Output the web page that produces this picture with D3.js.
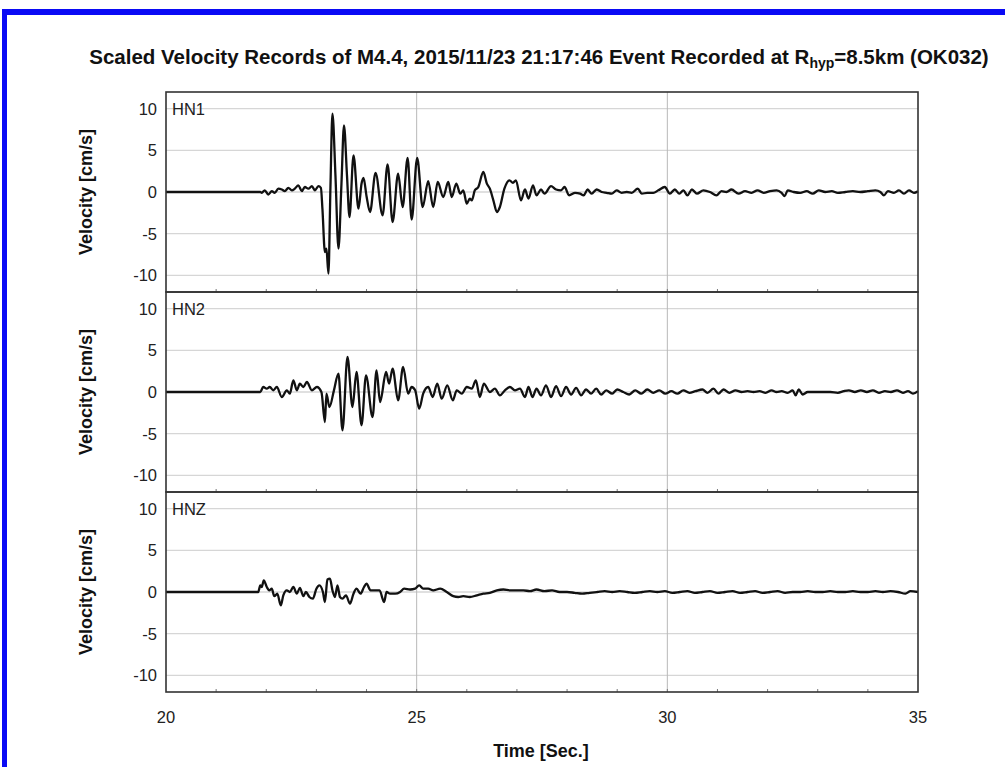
<!DOCTYPE html>
<html>
<head>
<meta charset="utf-8">
<script src="https://cdn.jsdelivr.net/npm/d3@7"></script>
<style>
  body { margin: 0; background: #fff; }
  svg { display: block; font-family: "Liberation Sans", Arial, sans-serif; }
</style>
</head>
<body>
<div id="chart"></div>
<script>
// channel names, one panel each
var channels = ["HN1", "HN2", "HNZ"];
var xTicks = [20, 25, 30, 35];
var yTicks = [-10, -5, 0, 5, 10];

// [time s, velocity cm/s]
var hn1 = [[20,0],[21.88,0],
[21.91,-0.1],[21.97,0.2],[22.04,-0.3],[22.11,0.1],[22.17,-0.1],[22.24,0.4],[22.31,0.3],[22.37,0.1],[22.44,0.5],[22.51,0.2],[22.57,0.4],[22.64,0.8],[22.71,0.1],[22.77,0.6],[22.84,0.4],[22.91,0.7],[22.97,0.2],[23.04,0.7],[23.09,0.5],
[23.12,-2.0],[23.17,-7.2],[23.20,-6.8],[23.24,-9.8],[23.28,0.5],[23.32,9.4],[23.38,2.0],[23.44,-6.8],[23.50,1.0],[23.55,8.0],[23.61,2.0],[23.66,-3.0],[23.74,4.4],[23.84,-2.0],[23.90,1.0],[23.94,1.7],[24.00,-0.5],[24.07,-2.4],[24.18,2.3],[24.32,-2.8],[24.42,3.3],[24.52,-3.6],[24.63,2.2],[24.72,-1.8],[24.82,4.1],[24.90,-3.3],[25.01,4.1],[25.12,-1.8],[25.23,1.3],[25.33,-1.8],[25.42,1.2],[25.53,-0.6],[25.63,1.2],[25.70,-0.6],[25.79,1.0],[25.87,-0.2],[25.93,0.2],[26.0,-1.4],[26.06,-0.8],[26.10,-1.0],[26.16,0.2],[26.23,0.6],[26.33,2.4],[26.40,1.0],[26.46,0.4],[26.53,-1.0],[26.60,-2.4],[26.66,-1.8],[26.75,0.4],[26.85,1.4],[26.92,1.1],[26.98,1.4],[27.08,-1.0],[27.16,0.3],[27.23,-0.8],[27.32,0.8],[27.39,-0.4],[27.48,0.3],[27.55,-0.2],[27.68,0.7],[27.78,0.3],[27.88,0.2],[27.95,0.6],[28.04,-0.4],[28.16,-0.1],[28.26,-0.2],[28.33,-0.4],[28.41,0.3],[28.49,-0.2],[28.59,0.3],[28.69,0],[28.79,-0.1],[28.89,-0.2],[28.99,0.2],[29.09,-0.1],[29.19,0],[29.29,-0.1],[29.41,0.4],[29.49,-0.2],[29.60,-0.1],[29.72,-0.1],[29.82,0.2],[29.95,0.6],[30.05,-0.2],[30.15,0.3],[30.24,-0.2],[30.32,0.2],[30.40,-0.4],[30.49,0.3],[30.59,-0.2],[30.72,0.2],[30.85,0],[30.98,-0.4],[31.08,0.1],[31.18,0],[31.28,0.3],[31.42,-0.2],
[31.55,0.1],[31.68,-0.1],[31.80,0.2],[31.92,-0.1],[32.05,0.1],[32.18,0.2],[32.28,-0.1],[32.34,-0.5],[32.40,0.2],[32.52,0],[32.65,-0.1],[32.78,0.1],[32.90,-0.2],[33.02,0.2],[33.15,0],[33.28,0.1],[33.40,-0.1],[33.55,0],[33.70,0.1],[33.85,0],[34.00,0.1],[34.15,0.2],[34.25,0],[34.32,-0.4],[34.40,0.1],[34.52,-0.1],[34.62,0.2],[34.72,-0.2],[34.82,0.2],[34.92,-0.1],[35,0.1]];

var hn2 = [[20,0],[21.88,0],[21.94,0.6],[22.01,0.4],[22.07,0.6],[22.14,0.2],[22.21,0.6],[22.31,-0.6],[22.41,0.2],[22.47,-0.2],[22.54,1.4],[22.61,0.2],[22.67,1.0],[22.74,0.6],[22.81,1.2],[22.91,0.2],[23.01,0.6],[23.10,0],[23.17,-3.6],[23.20,-0.2],[23.26,-1.8],[23.35,0.2],[23.44,2.2],[23.52,-4.6],[23.62,4.2],[23.72,-1.8],[23.80,2.4],[23.90,-4.0],[23.99,2.0],[24.12,-3.0],[24.20,2.6],[24.27,-1.2],[24.39,2.4],[24.45,1.0],[24.52,2.8],[24.63,-1.0],[24.73,3.0],[24.83,-0.2],[24.90,0.6],[24.97,0.2],[25.05,-2.0],[25.13,-0.2],[25.23,0.6],[25.32,-0.6],[25.41,1.0],[25.50,-0.8],[25.61,0.8],[25.72,-1.0],[25.80,0.2],[25.90,-0.2],[26.0,0.6],[26.10,0.4],[26.18,1.4],[26.26,-0.6],[26.34,1.0],[26.46,0],[26.56,0.4],[26.66,-0.4],[26.76,0.2],[26.86,0.6],[26.96,0.2],[27.06,0.4],[27.16,-0.6],[27.23,0.6],[27.31,-0.6],[27.39,0.4],
[27.48,-0.4],[27.58,0.8],[27.68,-0.6],[27.78,0.7],[27.88,-0.5],[27.98,0.6],[28.08,-0.3],[28.18,0.5],[28.28,-0.4],[28.38,0.3],[28.48,-0.2],[28.58,0.4],[28.68,-0.3],[28.78,0.2],[28.90,-0.2],[29.00,0.3],[29.12,0],[29.24,-0.3],[29.36,0.2],[29.48,-0.2],[29.60,0.3],[29.72,-0.1],[29.84,0.2],[29.96,-0.2],[30.08,0.1],[30.20,-0.2],[30.32,0.2],[30.44,-0.1],[30.56,0.1],[30.70,0.3],[30.80,-0.1],[30.92,0.4],[31.02,-0.2],[31.12,0.3],[31.24,-0.1],[31.36,0.2],[31.48,0],[31.60,0.1],[31.72,0],[31.84,0.1],[31.96,-0.1],[32.08,0.2],[32.18,0],[32.28,0.1],[32.40,-0.1],[32.50,0.2],[32.56,-0.4],[32.62,0.3],[32.70,-0.3],[32.80,0],[32.95,0],[33.10,0],[33.25,0],[33.40,-0.1],[33.52,0.1],[33.62,0.2],[33.74,0],[33.86,0.2],[33.98,0],[34.10,0.2],[34.22,-0.1],[34.34,0.1],[34.46,0],[34.58,0.2],[34.70,-0.1],[34.80,0.1],[34.90,-0.2],[35,0.1]];

var hnz = [[20,0],[21.84,0],[21.88,0.8],[21.91,0.6],[21.95,1.4],[22.01,0.6],[22.06,0.2],[22.11,0.4],[22.16,-0.5],[22.22,-0.2],[22.29,-1.6],[22.34,-0.4],[22.41,0.2],[22.47,0],[22.54,0.6],[22.61,-0.2],[22.67,0.5],[22.74,-0.5],[22.79,0],[22.86,-0.6],[22.93,-0.8],[23.00,0.4],[23.06,0.8],[23.13,0],[23.17,-1.2],[23.22,1.5],[23.27,1.6],[23.32,0.2],[23.37,-0.6],[23.42,0.8],[23.47,-0.6],[23.52,-0.8],[23.59,-0.4],[23.67,-1.4],[23.74,-0.2],[23.80,0.4],[23.88,-0.2],[23.95,0.6],[24.00,1.0],[24.08,0.2],[24.17,0.2],[24.26,0.2],[24.35,-1.2],[24.40,0],[24.47,-0.2],[24.57,-0.2],[24.67,0],[24.75,0.4],[24.87,0.3],[24.97,0.4],[25.05,0.8],[25.13,0.4],[25.23,0.4],[25.33,0.2],[25.47,0.4],[25.60,0],[25.73,-0.5],[25.83,-0.6],[25.93,-0.5],[26.06,-0.6],[26.20,-0.4],[26.33,-0.2],[26.46,-0.1],[26.60,0.2],[26.73,0.3],[26.86,0.2],[27.0,0.2],[27.13,0.2],[27.26,0.1],[27.39,0.3],
[27.55,0.1],[27.70,0.2],[27.85,0],[28.00,0],[28.15,-0.1],[28.30,-0.2],[28.45,-0.1],[28.60,0],[28.75,0.1],[28.90,0],[29.05,0.1],[29.20,0],[29.35,-0.1],[29.50,0],[29.65,0.1],[29.80,0],[29.95,0.1],[30.10,-0.1],[30.25,0],[30.40,0.1],[30.55,-0.1],[30.70,0],[30.85,0.1],[31.00,-0.1],[31.15,0],[31.30,0.1],[31.45,-0.1],[31.60,0],[31.75,0.1],[31.90,-0.1],[32.05,0],[32.20,0.1],[32.35,-0.1],[32.50,0],[32.65,0],[32.80,0.1],[32.95,0],[33.10,0],[33.25,0.1],[33.40,0],[33.55,0],[33.70,0.1],[33.85,0],[34.00,0],[34.15,0.1],[34.30,0],[34.45,0.1],[34.60,0],[34.75,-0.2],[34.85,0.1],[35,0]];

var traces = [hn1, hn2, hnz];

var W = 1005, H = 767;
var plotLeft = 166, plotRight = 918, plotTop = 92, panelH = 200;

var svg = d3.select("#chart").append("svg")
	.attr("width", W)
	.attr("height", H);

// blue frame of the figure
svg.append("rect").attr("x", 2).attr("y", 9).attr("width", W - 2).attr("height", 6).attr("fill", "#0a0af5");
svg.append("rect").attr("x", 2).attr("y", 9).attr("width", 5).attr("height", H - 9).attr("fill", "#0a0af5");

var x = d3.scaleLinear().domain([20, 35]).range([plotLeft, plotRight]);

var title = svg.append("text")
	.attr("x", 539).attr("y", 64)
	.attr("text-anchor", "middle")
	.attr("font-size", 20.5).attr("font-weight", "bold").attr("fill", "#111");
title.append("tspan").text("Scaled Velocity Records of M4.4, 2015/11/23 21:17:46 Event Recorded at R");
title.append("tspan").attr("font-size", 14).attr("dy", 4).text("hyp");
title.append("tspan").attr("dy", -4).text("=8.5km (OK032)");

channels.forEach(function(name, i)
{
	var y0 = plotTop + i * panelH;
	var y = d3.scaleLinear().domain([-12, 12]).range([y0 + panelH, y0]);
	var g = svg.append("g");

	// horizontal grid
	g.selectAll(".hg").data(yTicks).enter().append("line")
		.attr("x1", plotLeft).attr("x2", plotRight)
		.attr("y1", function(d) { return y(d); }).attr("y2", function(d) { return y(d); })
		.attr("stroke", "#d6d6d6").attr("stroke-width", 1.3);

	// vertical grid
	g.selectAll(".vg").data([25, 30]).enter().append("line")
		.attr("x1", function(d) { return x(d); }).attr("x2", function(d) { return x(d); })
		.attr("y1", y0).attr("y2", y0 + panelH)
		.attr("stroke", "#b8b8b8").attr("stroke-width", 1);

	// minor ticks every second, pointing up from the panel bottom
	g.selectAll(".mt").data(d3.range(21, 35)).enter().append("line")
		.attr("x1", function(d) { return x(d); }).attr("x2", function(d) { return x(d); })
		.attr("y1", y0 + panelH).attr("y2", y0 + panelH - 3)
		.attr("stroke", "#777").attr("stroke-width", 1);

	var valueline = d3.line()
		.x(function(d) { return x(d[0]); })
		.y(function(d) { return y(d[1]); })
		.curve(d3.curveMonotoneX);

	g.append("path")
		.datum(traces[i])
		.attr("d", valueline)
		.attr("fill", "none")
		.attr("stroke", "#111")
		.attr("stroke-width", 2.3)
		.attr("stroke-linejoin", "round");

	// y tick labels
	g.selectAll(".yl").data(yTicks).enter().append("text")
		.attr("x", 157).attr("y", function(d) { return y(d) + 6; })
		.attr("text-anchor", "end")
		.attr("font-size", 16.5).attr("fill", "#222")
		.text(function(d) { return d; });

	g.append("text")
		.attr("x", 172).attr("y", y0 + 23)
		.attr("font-size", 16.5).attr("fill", "#222")
		.text(name);

	g.append("text")
		.attr("transform", "translate(92," + (y0 + panelH / 2) + ") rotate(-90)")
		.attr("text-anchor", "middle")
		.attr("font-size", 18).attr("font-weight", "bold").attr("fill", "#111")
		.text("Velocity [cm/s]");

	g.append("rect")
		.attr("x", plotLeft).attr("y", y0)
		.attr("width", plotRight - plotLeft).attr("height", panelH)
		.attr("fill", "none").attr("stroke", "#333").attr("stroke-width", 1.6);
});

svg.append("g").selectAll("text").data(xTicks).enter().append("text")
	.attr("x", function(d) { return x(d); }).attr("y", 723)
	.attr("text-anchor", "middle")
	.attr("font-size", 16.5).attr("fill", "#222")
	.text(function(d) { return d; });

svg.append("text")
	.attr("x", 541).attr("y", 757)
	.attr("text-anchor", "middle")
	.attr("font-size", 18).attr("font-weight", "bold").attr("fill", "#111")
	.text("Time [Sec.]");
</script>
</body>
</html>
